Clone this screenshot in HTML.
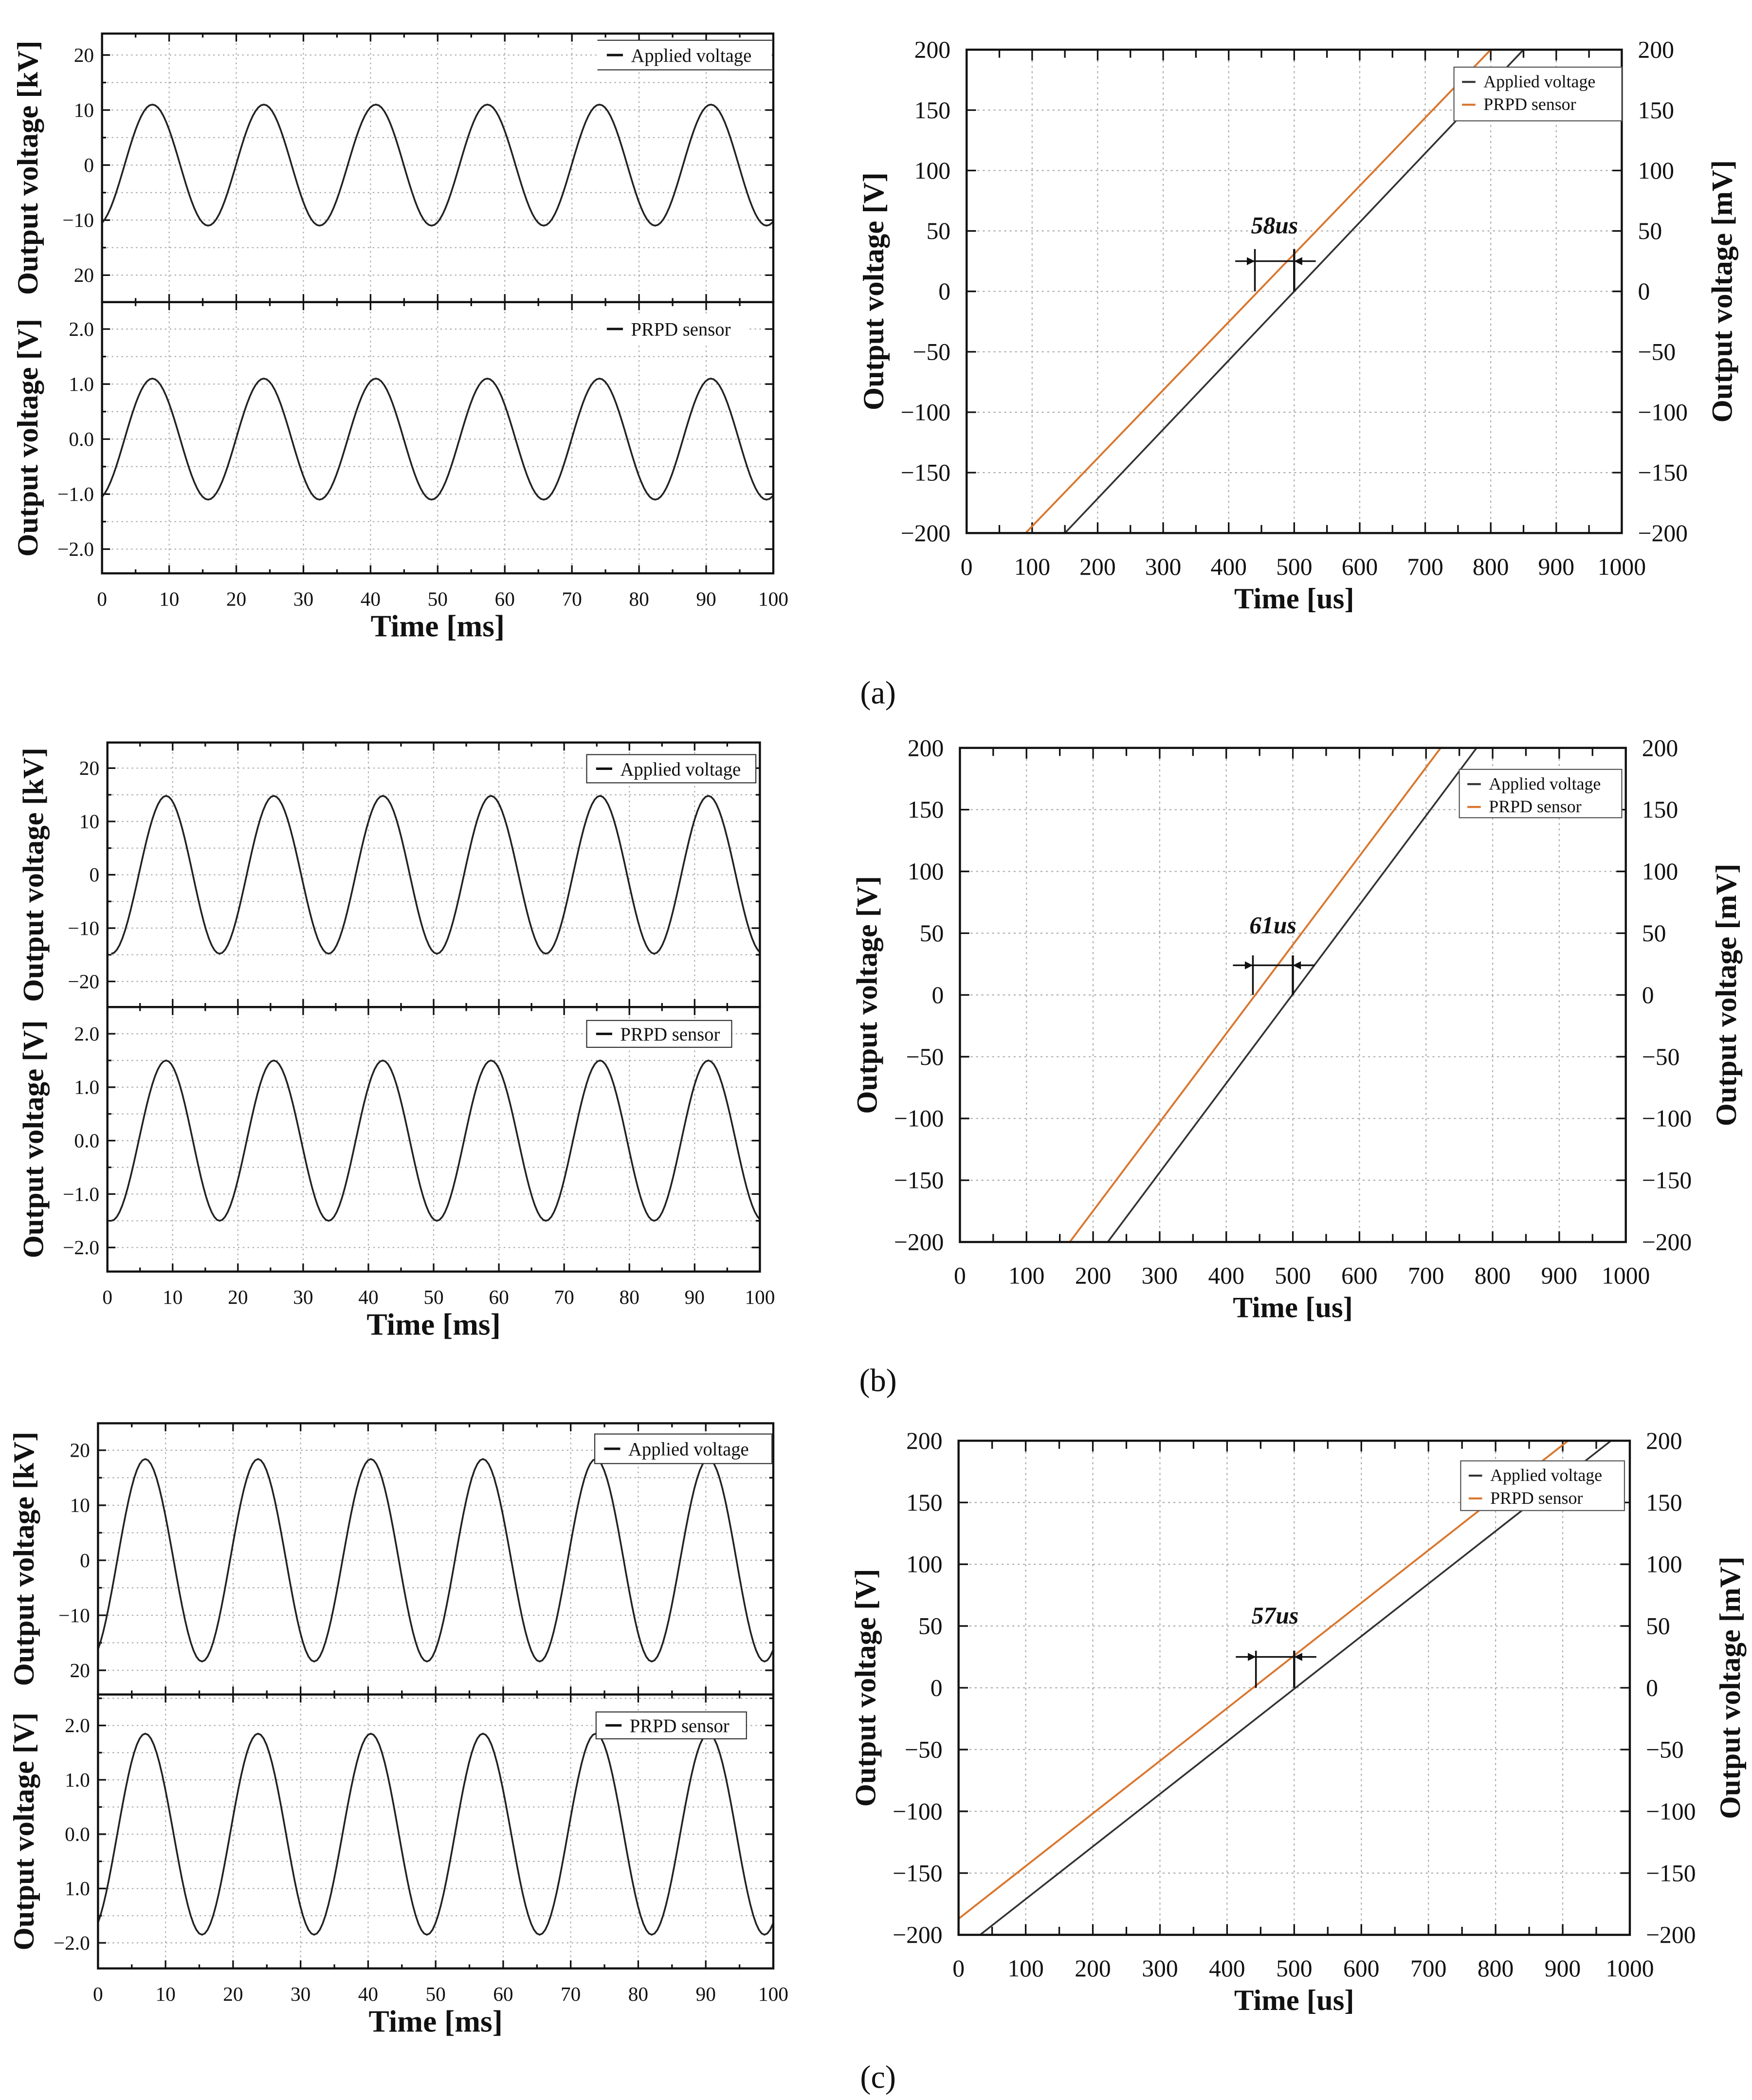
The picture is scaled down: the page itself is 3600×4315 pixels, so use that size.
<!DOCTYPE html>
<html><head><meta charset="utf-8">
<style>
html,body{margin:0;padding:0;background:#fff;}
svg{display:block;}
text{font-family:"Liberation Serif",serif;fill:#111;}
</style></head>
<body>
<svg id="fig" xmlns="http://www.w3.org/2000/svg" width="3600" height="4315" viewBox="0 0 1305 1564" preserveAspectRatio="none">
<rect x="0" y="0" width="1305" height="1564" fill="#fff"/>
<defs>
<clipPath id="c_a_top"><rect x="76" y="25" width="500" height="200"/></clipPath>
<clipPath id="c_a_bot"><rect x="76" y="225" width="500" height="202"/></clipPath>
<clipPath id="c_b_top"><rect x="80" y="553" width="486" height="197"/></clipPath>
<clipPath id="c_b_bot"><rect x="80" y="750" width="486" height="197"/></clipPath>
<clipPath id="c_c_top"><rect x="73" y="1060" width="503" height="202"/></clipPath>
<clipPath id="c_c_bot"><rect x="73" y="1262" width="503" height="204"/></clipPath>
<clipPath id="c_a_r"><rect x="720" y="37" width="488" height="360"/></clipPath>
<clipPath id="c_b_r"><rect x="715" y="557" width="496" height="368"/></clipPath>
<clipPath id="c_c_r"><rect x="714" y="1073" width="500" height="368"/></clipPath>
</defs>
<text x="654" y="524" font-size="24" text-anchor="middle">(a)</text>
<text x="654" y="1036" font-size="24" text-anchor="middle">(b)</text>
<text x="654" y="1555" font-size="24" text-anchor="middle">(c)</text>
</svg>
<script>
// ---------- data: sine extrema (times in ms, values) ----------
const aTopT=[-0.8,7.5,15.8,24.1,32.4,40.8,49.1,57.4,65.8,74.1,82.4,90.7,99.0,107.4];
const aTopV=[-11,11,-11,11,-11,11,-11,11,-11,11,-11,11,-11,11];
const aBotT=[-0.8,7.5,15.8,24.1,32.4,40.8,49.1,57.4,65.8,74.1,82.4,90.7,99.0,107.4];
const aBotV=[-1.1,1.1,-1.1,1.1,-1.1,1.1,-1.1,1.1,-1.1,1.1,-1.1,1.1,-1.1,1.1];
const bTopT=[0.6,9.0,17.2,25.5,33.9,42.2,50.5,58.8,67.2,75.5,83.8,92.1,100.5];
const bTopV=[-14.8,14.8,-14.8,14.8,-14.8,14.8,-14.8,14.8,-14.8,14.8,-14.8,14.8,-14.8];
const bBotT=[0.6,9.0,17.2,25.5,33.9,42.2,50.5,58.8,67.2,75.5,83.8,92.1,100.5];
const bBotV=[-1.5,1.5,-1.5,1.5,-1.5,1.5,-1.5,1.5,-1.5,1.5,-1.5,1.5,-1.5];
const cTopT=[-1.3,7.0,15.4,23.7,32.0,40.4,48.7,57.0,65.4,73.7,82.0,90.4,98.7,107.0];
const cTopV=[-18.4,18.4,-18.4,18.4,-18.4,18.4,-18.4,18.4,-18.4,18.4,-18.4,18.4,-18.4,18.4];
const cBotT=[-1.3,7.0,15.4,23.7,32.0,40.4,48.7,57.0,65.4,73.7,82.0,90.4,98.7,107.0];
const cBotV=[-1.85,1.85,-1.85,1.85,-1.85,1.85,-1.85,1.85,-1.85,1.85,-1.85,1.85,-1.85,1.85];
// tick labels
const msTicks=[0,10,20,30,40,50,60,70,80,90,100];
const kvTicks=[20,10,0,-10,-20];
const kvLabelsAC=["20","10","0","\u221210","20"];
const kvLabelsB=["20","10","0","\u221210","\u221220"];
const vTicks=[2,1,0,-1,-2];
const vLabelsAB=["2.0","1.0","0.0","\u22121.0","\u22122.0"];
const vLabelsC=["2.0","1.0","0.0","1.0","\u22122.0"];
const usTicks=[0,100,200,300,400,500,600,700,800,900,1000];
const rvTicks=[200,150,100,50,0,-50,-100,-150,-200];
const rvLabels=["200","150","100","50","0","\u221250","\u2212100","\u2212150","\u2212200"];
// ---------- data: delay plots (time us, voltage) ----------
const aAppT=[150,850], aAppV=[-200,200];
const aPrpT=[90,800],  aPrpV=[-200,200];
const bAppT=[222,776], bAppV=[-200,200];
const bPrpT=[165,722], bPrpV=[-200,200];
const cAppT=[32,972],  cAppV=[-200,200];
const cPrpT=[0,908],   cPrpV=[-187,200];
const delayLabels=["58us","61us","57us"];
const delayStart=[440,440,443], delayEnd=[500,500,500];

const NS="http://www.w3.org/2000/svg";
const svg=document.getElementById('fig');
function mk(tag,attrs,parent){const e=document.createElementNS(NS,tag);for(const k in attrs)e.setAttribute(k,attrs[k]);(parent||svg).appendChild(e);return e;}
function lin(d0,d1,r0,r1){return v=>r0+(v-d0)*(r1-r0)/(d1-d0);}

function sinePanel(o){
  const X=lin(0,100,o.x0,o.x1), Y=lin(o.ymin,o.ymax,o.yb,o.yt);
  const g=mk('g',{});
  
  
  // grid
  for(let t=10;t<100;t+=10){const l=mk('line',{x1:X(t),x2:X(t),y1:o.yt,y2:o.yb,stroke:'#aaa','stroke-width':0.8,'stroke-dasharray':'1.2,2.4'},g);
    }
  const step=o.minor;
  for(let v=Math.ceil(o.ymin/step)*step;v<=o.ymax;v+=step){if(Math.abs(Y(v)-o.yt)<2||Math.abs(Y(v)-o.yb)<2)continue;
    const l=mk('line',{x1:o.x0,x2:o.x1,y1:Y(v),y2:Y(v),stroke:'#aaa','stroke-width':0.8,'stroke-dasharray':'1.2,2.4'},g);
    }
  // ticks
  for(let t=0;t<=100;t+=5){const len=t%10===0?6:3;
    mk('line',{x1:X(t),x2:X(t),y1:o.yb,y2:o.yb-len,stroke:'#111','stroke-width':1.2},g);
    mk('line',{x1:X(t),x2:X(t),y1:o.yt,y2:o.yt+len,stroke:'#111','stroke-width':1.2},g);}
  for(let v=Math.ceil(o.ymin/step)*step;v<=o.ymax;v+=step){const maj=o.ticks.some(tv=>Math.abs(tv-v)<1e-6);const len=maj?6:3;
    mk('line',{x1:o.x0,x2:o.x0+len,y1:Y(v),y2:Y(v),stroke:'#111','stroke-width':1.2},g);
    mk('line',{x1:o.x1,x2:o.x1-len,y1:Y(v),y2:Y(v),stroke:'#111','stroke-width':1.2},g);}
  o.ticks.forEach((v,i)=>{const t=mk('text',{x:o.x0-6,y:Y(v)+5,'font-size':15,'text-anchor':'end'},g);t.textContent=o.labels[i];
    });
  // curve
  let d='';
  for(let i=0;i<o.T.length-1;i++){
    for(let k=0;k<=20;k++){const u=k/20;const t=o.T[i]+(o.T[i+1]-o.T[i])*u;const v=o.V[i]+(o.V[i+1]-o.V[i])*(1-Math.cos(Math.PI*u))/2;
      d+=(d?'L':'M')+X(t).toFixed(2)+' '+Y(v).toFixed(2);}
  }
  const p=mk('path',{d:d,fill:'none',stroke:'#222','stroke-width':1.3,'clip-path':'url(#'+o.clip+')'},g);
  
  // frame
  mk('rect',{x:o.x0,y:o.yt,width:o.x1-o.x0,height:o.yb-o.yt,fill:'none',stroke:'#111','stroke-width':1.6},g);
  // legend
  const lg=mk('g',{},g);
  
  const L=o.leg;
  mk('rect',{x:L.x,y:L.y,width:L.w,height:L.h,fill:'#fff',stroke:L.box?'#333':'none','stroke-width':0.8},lg);
  if(L.lines){mk('line',{x1:L.x,x2:L.x+L.w,y1:L.y,y2:L.y,stroke:'#333','stroke-width':0.8},lg);mk('line',{x1:L.x,x2:L.x+L.w,y1:L.y+L.h,y2:L.y+L.h,stroke:'#333','stroke-width':0.8},lg);}
  mk('line',{x1:L.x+7,x2:L.x+19,y1:L.y+L.h/2,y2:L.y+L.h/2,stroke:'#111','stroke-width':1.8},lg);
  const lt=mk('text',{x:L.x+25,y:L.y+L.h/2+5,'font-size':14},lg);lt.textContent=L.text;
  
}

function sineFigure(o){
  sinePanel(Object.assign({},o.top,{x0:o.x0,x1:o.x1}));
  sinePanel(Object.assign({},o.bot,{x0:o.x0,x1:o.x1}));
  const X=lin(0,100,o.x0,o.x1);
  msTicks.forEach(t=>{const e=mk('text',{x:X(t),y:o.bot.yb+24,'font-size':15,'text-anchor':'middle'});e.textContent=t;
    });
  const xt=mk('text',{x:(o.x0+o.x1)/2,y:o.bot.yb+47,'font-size':23,'font-weight':'bold','text-anchor':'middle'});xt.textContent='Time [ms]';
  
  [[o.top,'Output voltage [kV]'],[o.bot,'Output voltage [V]']].forEach(([p,s])=>{
    const cy=(p.yt+p.yb)/2;const e=mk('text',{x:0,y:0,'font-size':22,'font-weight':'bold','text-anchor':'middle',transform:`translate(${o.titleX},${cy}) rotate(-90)`});e.textContent=s;
    });
}

function delayFigure(o){
  const X=lin(0,1000,o.x0,o.x1), Y=lin(-200,200,o.yb,o.yt);
  const g=mk('g',{});
  
  for(let t=100;t<1000;t+=100){const l=mk('line',{x1:X(t),x2:X(t),y1:o.yt,y2:o.yb,stroke:'#aaa','stroke-width':0.8,'stroke-dasharray':'1.5,2.5'},g);
    }
  for(let v=-150;v<200;v+=50){const l=mk('line',{x1:o.x0,x2:o.x1,y1:Y(v),y2:Y(v),stroke:'#aaa','stroke-width':0.8,'stroke-dasharray':'1.5,2.5'},g);
    }
  for(let t=0;t<=1000;t+=50){const len=t%100===0?8:6;
    mk('line',{x1:X(t),x2:X(t),y1:o.yb,y2:o.yb-len,stroke:'#111','stroke-width':1.2},g);
    mk('line',{x1:X(t),x2:X(t),y1:o.yt,y2:o.yt+len,stroke:'#111','stroke-width':1.2},g);}
  rvTicks.forEach((v,i)=>{
    mk('line',{x1:o.x0,x2:o.x0+7,y1:Y(v),y2:Y(v),stroke:'#111','stroke-width':1.2},g);
    mk('line',{x1:o.x1,x2:o.x1-7,y1:Y(v),y2:Y(v),stroke:'#111','stroke-width':1.2},g);
    const a=mk('text',{x:o.x0-12,y:Y(v)+6,'font-size':18,'text-anchor':'end'},g);a.textContent=rvLabels[i];
    
    const b=mk('text',{x:o.x1+12,y:Y(v)+6,'font-size':18,'text-anchor':'start'},g);b.textContent=rvLabels[i];
    });
  usTicks.forEach(t=>{const e=mk('text',{x:X(t),y:o.yb+31,'font-size':18,'text-anchor':'middle'},g);e.textContent=t;
    });
  const xt=mk('text',{x:(o.x0+o.x1)/2,y:o.yb+56,'font-size':22,'font-weight':'bold','text-anchor':'middle'},g);xt.textContent='Time [us]';
  
  const cy=(o.yt+o.yb)/2;
  const yl=mk('text',{x:0,y:0,'font-size':22,'font-weight':'bold','text-anchor':'middle',transform:`translate(${o.x0-62},${cy}) rotate(-90)`},g);yl.textContent='Output voltage [V]';
  
  const yr=mk('text',{x:0,y:0,'font-size':22,'font-weight':'bold','text-anchor':'middle',transform:`translate(${o.x1+82},${cy}) rotate(-90)`},g);yr.textContent='Output voltage [mV]';
  
  const pa=mk('polyline',{points:o.appT.map((t,i)=>X(t)+','+Y(o.appV[i])).join(' '),fill:'none',stroke:'#333','stroke-width':1.3,'clip-path':'url(#'+o.clip+')'},g);
  
  const pp=mk('polyline',{points:o.prpT.map((t,i)=>X(t)+','+Y(o.prpV[i])).join(' '),fill:'none',stroke:'#d9772f','stroke-width':1.4,'clip-path':'url(#'+o.clip+')'},g);
  
  mk('rect',{x:o.x0,y:o.yt,width:o.x1-o.x0,height:o.yb-o.yt,fill:'none',stroke:'#111','stroke-width':1.6},g);
  // legend
  const L=o.leg;const lg=mk('g',{},g);
  
  mk('rect',{x:L.x,y:L.y,width:L.w,height:L.h,fill:'#fff',stroke:'#555','stroke-width':0.8},lg);
  [['Applied voltage','#333'],['PRPD sensor','#d9772f']].forEach(([s,c],i)=>{const yy=L.y+11+i*17;
    mk('line',{x1:L.x+6,x2:L.x+16,y1:yy,y2:yy,stroke:c,'stroke-width':1.5},lg);
    const e=mk('text',{x:L.x+22,y:yy+4,'font-size':13},lg);e.textContent=s;
    });
  // annotation
  const i=o.idx;const ya=Y(o.arrowV);
  const an=mk('g',{},g);
  mk('line',{x1:X(delayStart[i]),x2:X(delayStart[i]),y1:Y(0),y2:Y(o.barV),stroke:'#111','stroke-width':1.3},an);
  mk('line',{x1:X(delayEnd[i]),x2:X(delayEnd[i]),y1:Y(0),y2:Y(o.barV),stroke:'#111','stroke-width':1.6},an);
  mk('line',{x1:X(delayStart[i]-30),x2:X(delayEnd[i]+33),y1:ya,y2:ya,stroke:'#111','stroke-width':1.2},an);
  const s=X(delayStart[i]),e2=X(delayEnd[i]);
  mk('path',{d:`M${s} ${ya} l-6 -3 v6 z M${e2} ${ya} l6 -3 v6 z`,fill:'#111'},an);
  const tx=mk('text',{x:(s+e2)/2,y:Y(o.labelV),'font-size':18,'font-weight':'bold','font-style':'italic','text-anchor':'middle'},an);tx.textContent=delayLabels[i];
  
}

// ---- left sine figures ----
sineFigure({x0:76,x1:576,titleX:28,
  top:{name:'applied-voltage-plot-a',yt:25,yb:225,ymin:-24.9,ymax:23.9,minor:5,ticks:kvTicks,labels:kvLabelsAC,T:aTopT,V:aTopV,clip:'c_a_top',
       leg:{x:445,y:30,w:130,h:22,text:'Applied voltage',lines:true,box:false}},
  bot:{name:'prpd-sensor-plot-a',yt:225,yb:427,ymin:-2.44,ymax:2.49,minor:0.5,ticks:vTicks,labels:vLabelsAB,T:aBotT,V:aBotV,clip:'c_a_bot',
       leg:{x:445,y:235,w:112,h:20,text:'PRPD sensor',lines:false,box:false}}});
sineFigure({x0:80,x1:566,titleX:32,
  top:{name:'applied-voltage-plot-b',yt:553,yb:750,ymin:-24.8,ymax:24.8,minor:5,ticks:kvTicks,labels:kvLabelsB,T:bTopT,V:bTopV,clip:'c_b_top',
       leg:{x:437,y:562,w:126,h:21,text:'Applied voltage',lines:false,box:true}},
  bot:{name:'prpd-sensor-plot-b',yt:750,yb:947,ymin:-2.45,ymax:2.5,minor:0.5,ticks:vTicks,labels:vLabelsAB,T:bBotT,V:bBotV,clip:'c_b_bot',
       leg:{x:437,y:760,w:108,h:20,text:'PRPD sensor',lines:false,box:true}}});
sineFigure({x0:73,x1:576,titleX:25,
  top:{name:'applied-voltage-plot-c',yt:1060,yb:1262,ymin:-24.4,ymax:24.9,minor:5,ticks:kvTicks,labels:kvLabelsAC,T:cTopT,V:cTopV,clip:'c_c_top',
       leg:{x:443,y:1068,w:132,h:22,text:'Applied voltage',lines:false,box:true}},
  bot:{name:'prpd-sensor-plot-c',yt:1262,yb:1466,ymin:-2.47,ymax:2.57,minor:0.5,ticks:vTicks,labels:vLabelsC,T:cBotT,V:cBotV,clip:'c_c_bot',
       leg:{x:444,y:1275,w:112,h:20,text:'PRPD sensor',lines:false,box:true}}});

// ---- right delay figures ----
delayFigure({name:'delay-plot-a',idx:0,x0:720,x1:1208,yt:37,yb:397,appT:aAppT,appV:aAppV,prpT:aPrpT,prpV:aPrpV,clip:'c_a_r',
  leg:{x:1083,y:50,w:125,h:40},arrowV:25,barV:35,labelV:48});
delayFigure({name:'delay-plot-b',idx:1,x0:715,x1:1211,yt:557,yb:925,appT:bAppT,appV:bAppV,prpT:bPrpT,prpV:bPrpV,clip:'c_b_r',
  leg:{x:1087,y:573,w:121,h:36},arrowV:24,barV:32,labelV:50});
delayFigure({name:'delay-plot-c',idx:2,x0:714,x1:1214,yt:1073,yb:1441,appT:cAppT,appV:cAppV,prpT:cPrpT,prpV:cPrpV,clip:'c_c_r',
  leg:{x:1088,y:1088,w:122,h:37},arrowV:25,barV:30,labelV:52});
</script>
</body></html>
